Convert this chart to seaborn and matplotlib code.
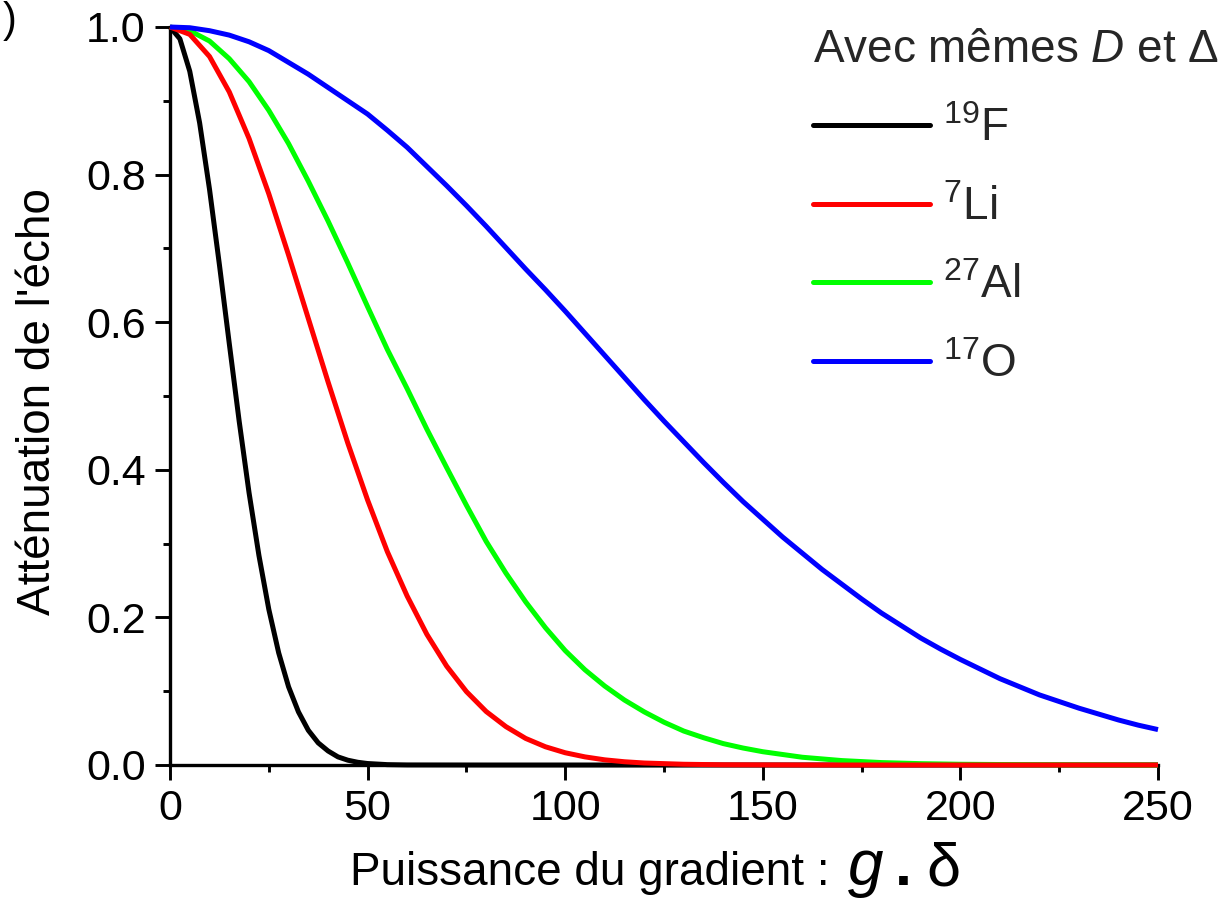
import matplotlib
matplotlib.use("Agg")
import matplotlib.pyplot as plt
import numpy as np
import pandas as pd
import seaborn as sns
from matplotlib.ticker import MultipleLocator, FormatStrFormatter
from matplotlib.lines import Line2D

# Echo attenuation vs gradient strength (g·δ) for four nuclei, same D and Δ
g_f19 = [0, 2.5, 5, 7.5, 10, 12.5, 15, 17.5, 20, 22.5, 25, 27.5, 30, 32.5, 35,
         37.5, 40, 42.5, 45, 47.5, 50, 55, 60, 80, 100, 150, 200, 250]
att_f19 = [1.0, 0.984, 0.94, 0.87, 0.78, 0.678, 0.571, 0.466, 0.369, 0.284, 0.211,
           0.152, 0.106, 0.072, 0.047, 0.030, 0.019, 0.011, 0.0065, 0.0037, 0.002,
           0.0005, 0.0001, 0.0, 0.0, 0.0, 0.0, 0.0]

g_li7 = [0, 5, 10, 15, 20, 25, 30, 35, 40, 45, 50, 55, 60, 65, 70, 75, 80, 85, 90,
         95, 100, 105, 110, 115, 120, 130, 140, 160, 200, 250]
att_li7 = [1.0, 0.99, 0.96, 0.912, 0.849, 0.774, 0.691, 0.605, 0.519, 0.436, 0.359,
           0.289, 0.229, 0.177, 0.134, 0.0995, 0.0725, 0.052, 0.036, 0.0247, 0.0166,
           0.011, 0.007, 0.0044, 0.0027, 0.001, 0.0003, 0.0, 0.0, 0.0]

g_al27 = [0, 5, 10, 15, 20, 25, 30, 35, 40, 45, 50, 55, 60, 65, 70, 75, 80, 85, 90,
          95, 100, 105, 110, 115, 120, 125, 130, 135, 140, 145, 150, 160, 170, 180,
          190, 200, 220, 250]
att_al27 = [1.0, 0.995, 0.981, 0.957, 0.926, 0.887, 0.842, 0.791, 0.737, 0.68,
            0.621, 0.563, 0.51, 0.455, 0.403, 0.352, 0.303, 0.26, 0.221, 0.186,
            0.155, 0.129, 0.107, 0.088, 0.072, 0.058, 0.046, 0.037, 0.029, 0.023,
            0.018, 0.0105, 0.006, 0.0033, 0.0018, 0.001, 0.0003, 0.0]

g_o17 = [0, 5, 10, 15, 20, 25, 30, 35, 40, 45, 50, 55, 60, 65, 70, 75, 80, 85, 90,
         95, 100, 105, 110, 115, 120, 125, 130, 135, 140, 145, 150, 155, 160, 165,
         170, 175, 180, 185, 190, 195, 200, 205, 210, 215, 220, 225, 230, 235, 240,
         245, 250]
att_o17 = [1.0, 0.999, 0.995, 0.989, 0.98, 0.968, 0.952, 0.936, 0.918, 0.9, 0.882,
           0.86, 0.837, 0.811, 0.785, 0.758, 0.73, 0.701, 0.672, 0.644, 0.615,
           0.585, 0.555, 0.525, 0.495, 0.466, 0.438, 0.41, 0.383, 0.357, 0.333,
           0.309, 0.287, 0.265, 0.245, 0.225, 0.206, 0.189, 0.172, 0.157, 0.143,
           0.13, 0.117, 0.106, 0.095, 0.086, 0.077, 0.069, 0.061, 0.054, 0.048]

nuclei = ["19F", "7Li", "27Al", "17O"]
labels = [r"$^{19}$F", r"$^{7}$Li", r"$^{27}$Al", r"$^{17}$O"]
colors = ["#000000", "#ff0000", "#00ff00", "#0000ff"]
draw_order = ["19F", "27Al", "7Li", "17O"]

df = pd.concat([
    pd.DataFrame({"g": g_f19, "att": att_f19, "noyau": "19F"}),
    pd.DataFrame({"g": g_li7, "att": att_li7, "noyau": "7Li"}),
    pd.DataFrame({"g": g_al27, "att": att_al27, "noyau": "27Al"}),
    pd.DataFrame({"g": g_o17, "att": att_o17, "noyau": "17O"}),
], ignore_index=True)

sns.set_theme(style="ticks")
plt.rcParams["font.family"] = ["Liberation Sans", "DejaVu Sans"]
plt.rcParams["mathtext.fontset"] = "custom"
plt.rcParams["mathtext.rm"] = "Liberation Sans"
plt.rcParams["mathtext.it"] = "Liberation Sans:italic"
plt.rcParams["mathtext.bf"] = "Liberation Sans:bold"

fig = plt.figure(figsize=(12.25, 9.01), dpi=100)
ax = fig.add_axes([170 / 1225, 1 - 765 / 901, 988 / 1225, 738 / 901])

lw = 3.6
color_of = dict(zip(nuclei, colors))
for name in draw_order:
    sub = df[df["noyau"] == name]
    sns.lineplot(data=sub, x="g", y="att", color=color_of[name], linewidth=lw,
                 ax=ax, estimator=None, sort=False, legend=False)
for ln in ax.lines:
    ln.set_clip_on(False)
    ln.set_zorder(3)
    ln.set_solid_joinstyle("round")
    ln.set_solid_capstyle("butt")

ax.set_xlim(0, 250)
ax.set_ylim(0, 1.0)
ax.xaxis.set_major_locator(MultipleLocator(50))
ax.xaxis.set_minor_locator(MultipleLocator(25))
ax.yaxis.set_major_locator(MultipleLocator(0.2))
ax.yaxis.set_minor_locator(MultipleLocator(0.1))
ax.yaxis.set_major_formatter(FormatStrFormatter("%.1f"))

for side in ["top", "right"]:
    ax.spines[side].set_visible(False)
for side in ["left", "bottom"]:
    ax.spines[side].set_linewidth(2.4)
    ax.spines[side].set_color("black")
    ax.spines[side].set_zorder(2)

ax.tick_params(which="major", direction="out", length=10.5, width=2.1,
               labelsize=31, color="black", labelcolor="black", pad=7)
ax.tick_params(which="minor", direction="out", length=5, width=2.1, color="black")
ax.grid(False)
ax.set_xlabel("")
ax.set_ylabel("Atténuation de l'écho", fontsize=33, color="black")
ax.yaxis.set_label_coords(-0.111, 0.492)

# x-axis title composed of pieces with different sizes
yb = 1 - 885 / 901
fig.text(350 / 1225, yb, "Puissance du gradient :", fontsize=33, va="baseline",
         ha="left", color="black")
fig.text(848 / 1225, yb, "g", fontsize=46, style="italic", va="baseline",
         ha="left", color="black")
fig.text(895 / 1225, yb, ".", fontsize=44, fontweight="bold", va="baseline",
         ha="left", color="black")
fig.text(926 / 1225, yb, "δ", fontsize=44, va="baseline", ha="left", color="black")

# panel tag
fig.text(3 / 1225, 1 - 1 / 901, ")", fontsize=30, va="top", ha="left",
         color="black", fontweight="light")

handles = [Line2D([0], [0], color=c, linewidth=lw) for c in colors]
leg = ax.legend(handles, labels, title=r"Avec mêmes $\mathit{D}$ et Δ",
                loc="upper left", bbox_to_anchor=(813 / 1225, 1 - 28 / 901),
                bbox_transform=fig.transFigure, frameon=False, fontsize=33,
                title_fontsize=33, handlelength=2.55, handletextpad=0.28,
                labelspacing=0.76, borderaxespad=0, borderpad=0,
                alignment="left")

fig.savefig("out.png", dpi=100, facecolor="white")
